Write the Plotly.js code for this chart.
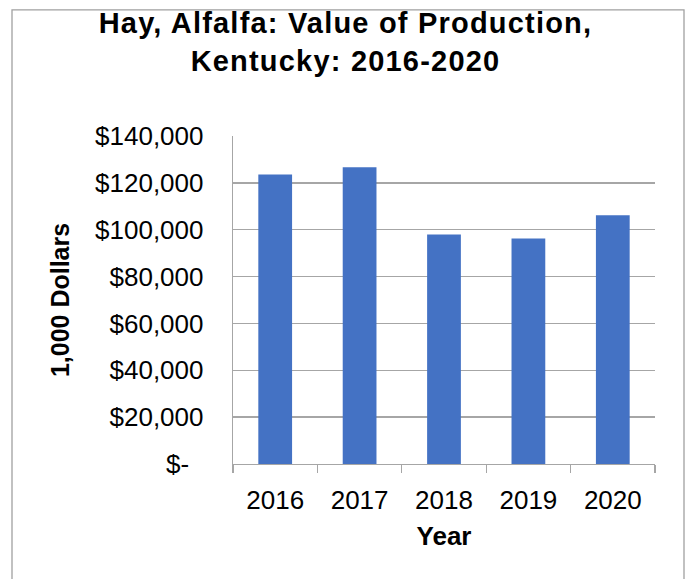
<!DOCTYPE html>
<html>
<head>
<meta charset="utf-8">
<script src="https://cdn.plot.ly/plotly-3.0.1.min.js"></script>
<style>
  html, body { margin: 0; padding: 0; background: #fff; }
  #chart { width: 691px; height: 579px; }
  #chart .gtitle { letter-spacing: 1.2px; }
</style>
</head>
<body>
<div id="chart"></div>
<script>
const years = ['2016', '2017', '2018', '2019', '2020'];
const values = [123600, 126700, 98000, 96300, 106200];
const yTickVals = [0, 20000, 40000, 60000, 80000, 100000, 120000, 140000];
const yTickText = ['$-\u00a0\u00a0', '$20,000', '$40,000', '$60,000', '$80,000', '$100,000', '$120,000', '$140,000'];

const W = 691, H = 579;
const ml = 233, mr = 36, mt = 135.5, mb = 114.5;
const pw = W - ml - mr, ph = H - mt - mb;
const px = x => (x - ml) / pw;
const py = y => (H - mb - y) / ph;

const font = 'Arial, "Liberation Sans", sans-serif';

const trace = {
  type: 'bar',
  x: years,
  y: values,
  marker: { color: '#4472C4' },
  hoverinfo: 'skip'
};

const layout = {
  width: W, height: H,
  margin: { l: ml, r: mr, t: mt, b: mb, autoexpand: false },
  paper_bgcolor: '#fff',
  plot_bgcolor: '#fff',
  bargap: 0.6,
  showlegend: false,
  font: { family: font, color: '#000' },
  title: {
    text: 'Hay, Alfalfa: Value of Production,<br>Kentucky: 2016-2020',
    font: { family: font, size: 29, weight: 'bold', color: '#000' },
    x: 0.5, xref: 'container', xanchor: 'center',
    y: 1 - 33 / H, yref: 'container', yanchor: 'middle'
  },
  xaxis: {
    type: 'category',
    showgrid: false,
    showline: true, linecolor: '#A6A6A6', linewidth: 1.3,
    ticks: 'outside', tickson: 'boundaries', ticklen: 8, tickcolor: '#A6A6A6', tickwidth: 1.3,
    ticklabelstandoff: 12,
    tickfont: { family: font, size: 26, color: '#000' },
    title: { text: 'Year', font: { family: font, size: 26, weight: 'bold', color: '#000' }, standoff: 13 },
    automargin: false
  },
  yaxis: {
    range: [0, 140000],
    tickvals: yTickVals, ticktext: yTickText,
    showgrid: true, gridcolor: '#A6A6A6', gridwidth: 1.3,
    showline: true, linecolor: '#A6A6A6', linewidth: 1.3,
    zeroline: false,
    ticks: 'outside', ticklen: 0, tickcolor: 'rgba(0,0,0,0)',
    ticklabelstandoff: 23,
    tickfont: { family: font, size: 26, color: '#000' },
    title: { text: '1,000 Dollars', font: { family: font, size: 25, weight: 'bold', color: '#000' }, standoff: 18 },
    automargin: false,
    fixedrange: true
  },
  shapes: [{
    type: 'path', xref: 'paper', yref: 'paper',
    path: `M ${px(12)} ${py(600)} L ${px(12)} ${py(9)} L ${px(684)} ${py(9)} L ${px(684)} ${py(600)}`,
    line: { color: '#A0A0A0', width: 1.3 },
    layer: 'above'
  }]
};

Plotly.newPlot('chart', [trace], layout, { displayModeBar: false, staticPlot: true });
</script>
</body>
</html>
